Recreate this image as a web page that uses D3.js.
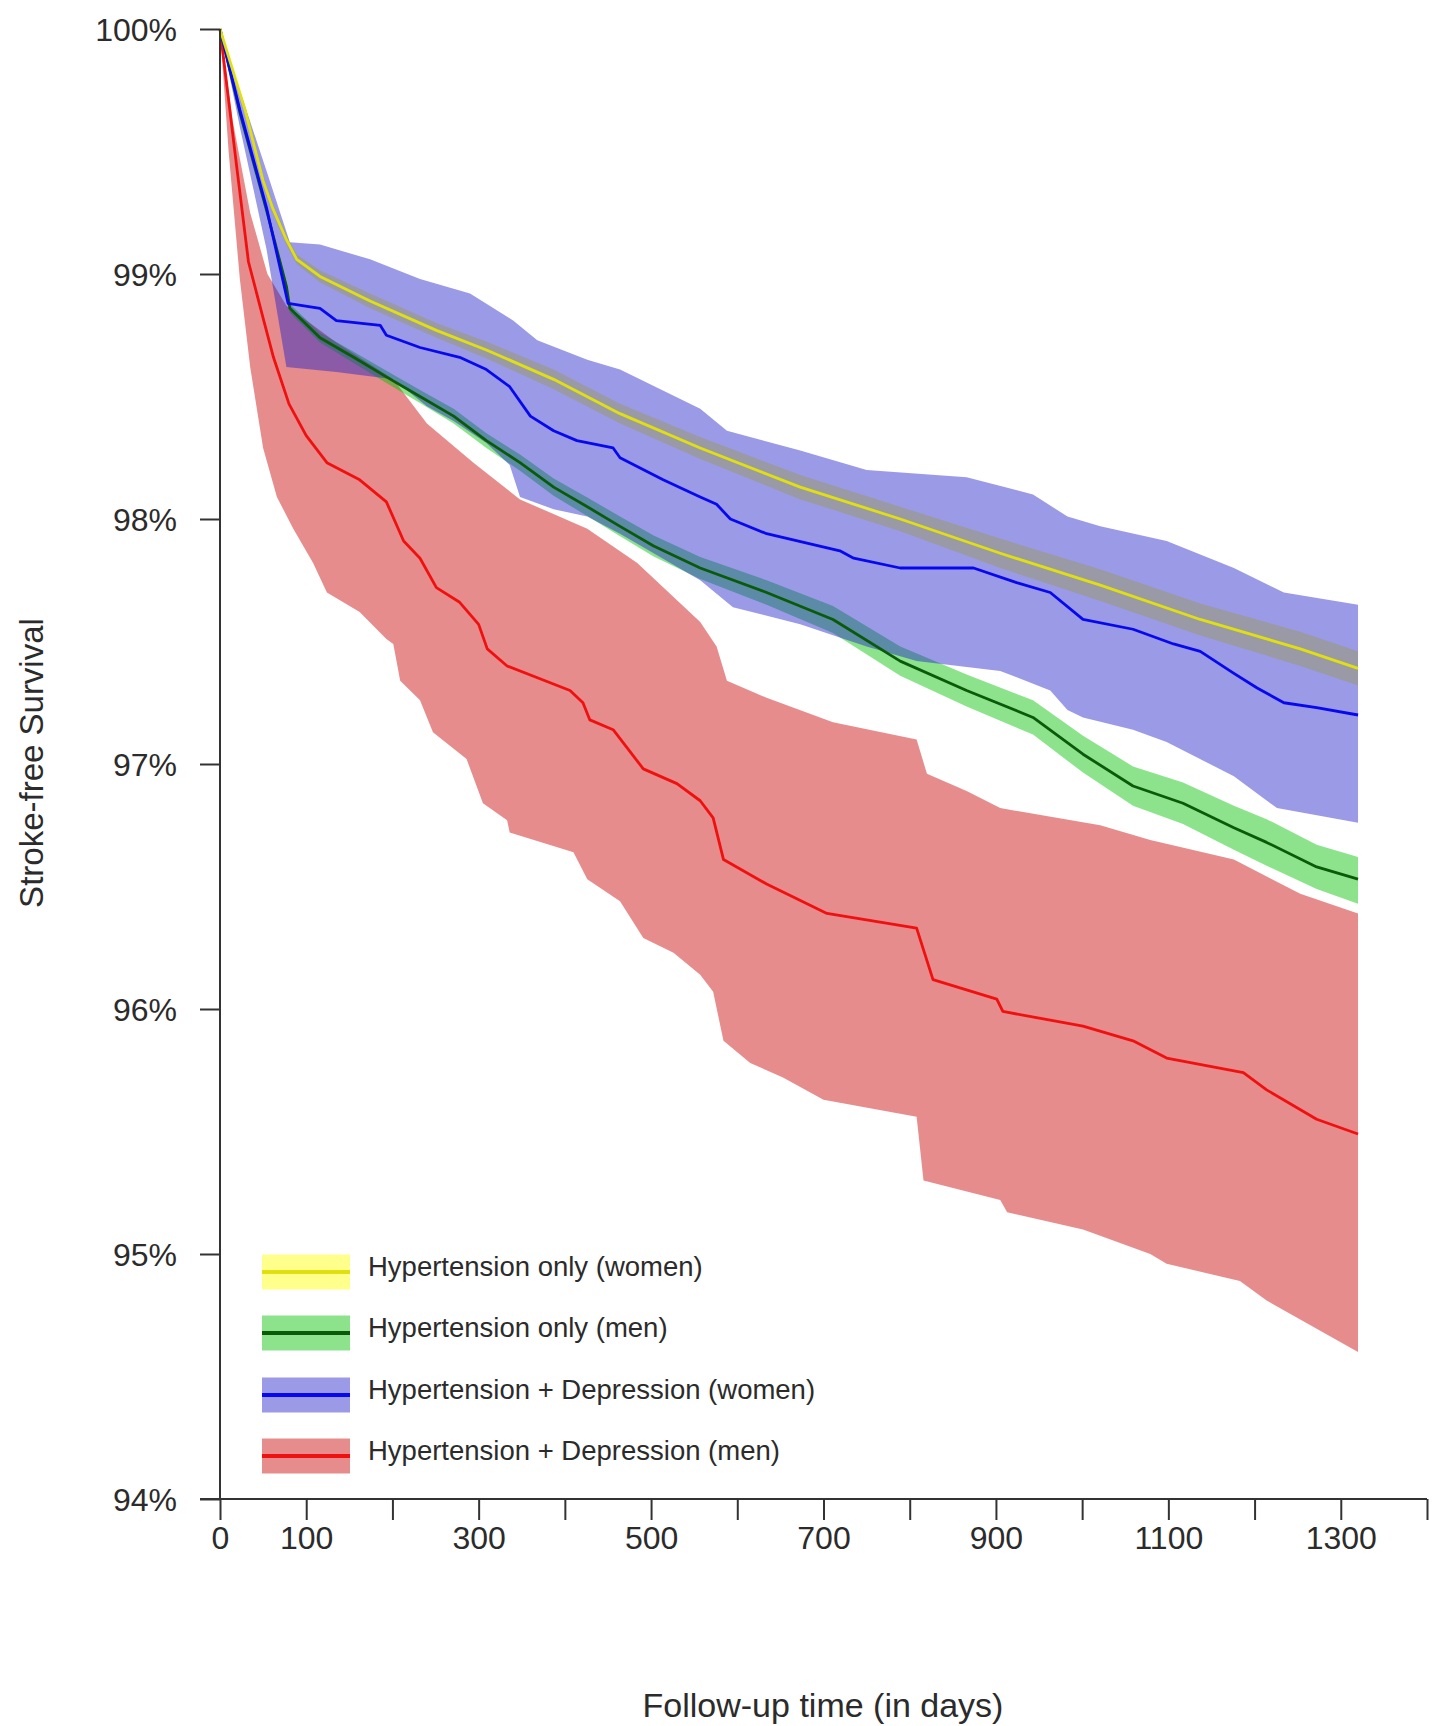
<!DOCTYPE html>
<html>
<head>
<meta charset="utf-8">
<script src="https://cdn.jsdelivr.net/npm/d3@7/dist/d3.min.js"></script>
<style>
  body { margin: 0; background: #fff; }
  text { font-family: "Liberation Sans", Arial, Helvetica, sans-serif; fill: #2b2b2b; }
</style>
</head>
<body>
<svg id="chart"></svg>
<script>
// Hypertension only (women)
const yellowDays = [0, 29, 50, 61, 77, 89, 116, 174, 251, 309, 387, 464, 557, 673, 789, 905, 1021, 1137, 1253, 1320];
const yellowSurv = [100, 99.67, 99.38, 99.27, 99.14, 99.06, 98.99, 98.89, 98.77, 98.69, 98.57, 98.43, 98.29, 98.13, 98.00, 97.86, 97.73, 97.59, 97.47, 97.39];
const yellowHi = [100, 99.69, 99.40, 99.29, 99.16, 99.08, 99.015, 98.92, 98.80, 98.725, 98.61, 98.47, 98.335, 98.18, 98.05, 97.92, 97.795, 97.655, 97.54, 97.46];
const yellowLo = [100, 99.65, 99.36, 99.25, 99.12, 99.04, 98.965, 98.86, 98.74, 98.655, 98.53, 98.39, 98.245, 98.08, 97.95, 97.80, 97.665, 97.525, 97.40, 97.32];

// Hypertension only (men)
const greenDays = [0, 23, 54, 77, 81, 116, 155, 193, 232, 271, 309, 348, 387, 426, 464, 503, 557, 634, 711, 789, 866, 943, 1001, 1059, 1117, 1176, 1214, 1272, 1320];
const greenSurv = [100, 99.66, 99.26, 98.95, 98.86, 98.74, 98.66, 98.58, 98.50, 98.42, 98.32, 98.23, 98.13, 98.05, 97.97, 97.89, 97.80, 97.70, 97.59, 97.42, 97.30, 97.19, 97.04, 96.91, 96.84, 96.74, 96.68, 96.58, 96.53];
const greenHi = [100, 99.675, 99.275, 98.967, 98.878, 98.76, 98.683, 98.605, 98.527, 98.45, 98.35, 98.263, 98.165, 98.088, 98.01, 97.933, 97.845, 97.75, 97.645, 97.48, 97.365, 97.26, 97.115, 96.99, 96.925, 96.83, 96.775, 96.67, 96.62];
const greenLo = [100, 99.645, 99.245, 98.933, 98.842, 98.72, 98.637, 98.555, 98.473, 98.39, 98.29, 98.197, 98.095, 98.012, 97.93, 97.847, 97.755, 97.65, 97.535, 97.36, 97.235, 97.12, 96.965, 96.83, 96.755, 96.65, 96.585, 96.49, 96.43];

// Hypertension + Depression (women)
const blueDays = [0, 23, 54, 79, 116, 135, 186, 193, 232, 278, 309, 336, 360, 387, 414, 456, 464, 514, 557, 576, 592, 634, 719, 735, 789, 874, 924, 963, 1001, 1059, 1106, 1137, 1176, 1203, 1234, 1272, 1320];
const blueSurv = [100, 99.67, 99.27, 98.88, 98.86, 98.81, 98.79, 98.75, 98.70, 98.66, 98.61, 98.54, 98.42, 98.36, 98.32, 98.29, 98.25, 98.16, 98.09, 98.06, 98.00, 97.94, 97.87, 97.84, 97.80, 97.80, 97.74, 97.70, 97.59, 97.55, 97.49, 97.46, 97.37, 97.31, 97.25, 97.23, 97.20];
const blueHiDays = [0, 23, 54, 81, 116, 174, 232, 290, 340, 368, 426, 464, 557, 588, 673, 750, 866, 943, 983, 1021, 1098, 1176, 1234, 1320];
const blueHi = [100, 99.75, 99.42, 99.13, 99.12, 99.06, 98.98, 98.92, 98.81, 98.73, 98.65, 98.61, 98.45, 98.36, 98.28, 98.20, 98.17, 98.10, 98.01, 97.97, 97.91, 97.80, 97.70, 97.65];
const blueLoDays = [0, 23, 54, 77, 135, 201, 240, 271, 309, 336, 348, 387, 426, 464, 557, 595, 673, 750, 808, 905, 963, 983, 1001, 1059, 1098, 1176, 1226, 1320];
const blueLo = [100, 99.6, 99.1, 98.62, 98.60, 98.57, 98.46, 98.40, 98.31, 98.22, 98.09, 98.04, 98.01, 97.94, 97.75, 97.64, 97.57, 97.48, 97.42, 97.38, 97.30, 97.22, 97.19, 97.14, 97.09, 96.95, 96.82, 96.76];

// Hypertension + Depression (men)
const redDays = [0, 20, 33, 50, 62, 80, 100, 124, 162, 193, 213, 232, 251, 278, 300, 310, 333, 406, 421, 429, 456, 491, 530, 557, 572, 584, 634, 704, 808, 827, 901, 908, 1001, 1059, 1098, 1187, 1214, 1272, 1320];
const redSurv = [100, 99.42, 99.05, 98.82, 98.66, 98.47, 98.34, 98.23, 98.16, 98.07, 97.91, 97.84, 97.72, 97.66, 97.57, 97.47, 97.40, 97.30, 97.25, 97.18, 97.14, 96.98, 96.92, 96.85, 96.78, 96.61, 96.51, 96.39, 96.33, 96.12, 96.04, 95.99, 95.93, 95.87, 95.80, 95.74, 95.67, 95.55, 95.49];
const redHiDays = [0, 15, 35, 55, 77, 135, 201, 240, 294, 348, 426, 484, 557, 576, 588, 634, 711, 808, 820, 866, 905, 1021, 1079, 1176, 1253, 1320];
const redHi = [100, 99.62, 99.25, 99.0, 98.87, 98.72, 98.57, 98.39, 98.23, 98.08, 97.96, 97.82, 97.58, 97.48, 97.34, 97.27, 97.17, 97.10, 96.96, 96.89, 96.82, 96.75, 96.69, 96.61, 96.47, 96.39];
const redLoDays = [0, 10, 23, 35, 50, 66, 85, 108, 124, 162, 193, 201, 209, 232, 247, 286, 305, 333, 336, 410, 426, 464, 491, 526, 557, 572, 584, 615, 653, 700, 808, 816, 905, 913, 1001, 1079, 1098, 1183, 1214, 1320];
const redLo = [100, 99.5, 98.98, 98.62, 98.29, 98.09, 97.96, 97.82, 97.70, 97.62, 97.51, 97.49, 97.34, 97.26, 97.13, 97.02, 96.84, 96.77, 96.72, 96.64, 96.53, 96.44, 96.29, 96.23, 96.14, 96.07, 95.87, 95.78, 95.72, 95.63, 95.56, 95.30, 95.22, 95.17, 95.10, 95.00, 94.96, 94.89, 94.81, 94.60];

const legendLabels = [
  "Hypertension only (women)",
  "Hypertension only (men)",
  "Hypertension + Depression (women)",
  "Hypertension + Depression (men)"
];
const xTicks = d3.range(0, 1401, 100);
const xTickLabels = [0, 100, 300, 500, 700, 900, 1100, 1300];
const yTicks = [94, 95, 96, 97, 98, 99, 100];
const xTitle = "Follow-up time (in days)";
const yTitle = "Stroke-free Survival";

const width = 1437, height = 1726;
const svg = d3.select("#chart").attr("width", width).attr("height", height);

const x = d3.scaleLinear().domain([0, 1400]).range([220, 1427]);
const y = d3.scaleLinear().domain([94, 100]).range([1499, 29]);

const zip = (a, b) => a.map((d, i) => [d, b[i]]);
const line = d3.line().x(d => x(d[0])).y(d => y(d[1]));

const series = [
  { name: legendLabels[0], days: yellowDays, surv: yellowSurv, hiDays: yellowDays, hi: yellowHi, loDays: yellowDays, lo: yellowLo, band: "#ffff00", stroke: "#e0e010" },
  { name: legendLabels[1], days: greenDays, surv: greenSurv, hiDays: greenDays, hi: greenHi, loDays: greenDays, lo: greenLo, band: "#00c000", stroke: "#0a5a0a" },
  { name: legendLabels[2], days: blueDays, surv: blueSurv, hiDays: blueHiDays, hi: blueHi, loDays: blueLoDays, lo: blueLo, band: "#2020c8", stroke: "#0808f0" },
  { name: legendLabels[3], days: redDays, surv: redSurv, hiDays: redHiDays, hi: redHi, loDays: redLoDays, lo: redLo, band: "#c80000", stroke: "#f01010" }
];

// bands: yellow, red, green, blue (blue ends up on top)
const bandOrder = [0, 3, 1, 2];
const bands = svg.append("g");
bandOrder.forEach(i => {
  const s = series[i];
  const pts = zip(s.hiDays, s.hi).concat(zip(s.loDays, s.lo).reverse());
  bands.append("path")
    .attr("d", line(pts) + "Z")
    .attr("fill", s.band)
    .attr("fill-opacity", 0.45)
    .attr("stroke", "none");
});

// survival curves
const lines = svg.append("g");
[3, 1, 2, 0].forEach(i => {
  const s = series[i];
  lines.append("path")
    .datum(zip(s.days, s.surv))
    .attr("d", line)
    .attr("fill", "none")
    .attr("stroke", s.stroke)
    .attr("stroke-width", 2.8)
    .attr("stroke-linejoin", "round");
});

// axes
const axisColor = "#333";
const yAxis = svg.append("g").attr("transform", `translate(${x(0)},0)`)
  .call(d3.axisLeft(y).tickValues(yTicks).tickSize(20).tickFormat(d => d + "%"));
const xAxis = svg.append("g").attr("transform", `translate(0,${y(94)})`)
  .call(d3.axisBottom(x).tickValues(xTicks).tickSize(21)
    .tickFormat(d => xTickLabels.includes(d) ? d : ""));

[yAxis, xAxis].forEach(g => {
  g.select(".domain").attr("stroke", axisColor).attr("stroke-width", 2);
  g.selectAll(".tick line").attr("stroke", axisColor).attr("stroke-width", 2);
  g.selectAll("text").attr("font-family", null).attr("fill", "#2b2b2b");
});
yAxis.select(".domain").attr("d", `M0,${y(100)}V${y(94)}`);
xAxis.select(".domain").attr("d", `M${x(0) - 20},0H${x(1400)}`);
yAxis.selectAll(".tick text").attr("font-size", 32).attr("x", -43).attr("dy", "0.35em");
xAxis.selectAll(".tick text").attr("font-size", 32).attr("y", 27).attr("dy", "0.71em");

// axis titles
svg.append("text")
  .attr("x", 823).attr("y", 1717)
  .attr("text-anchor", "middle")
  .attr("font-size", 34)
  .text(xTitle);
svg.append("text")
  .attr("transform", `translate(43,763) rotate(-90)`)
  .attr("text-anchor", "middle")
  .attr("font-size", 33)
  .text(yTitle);

// legend
const legend = svg.append("g");
const rowY = [1272, 1333, 1395, 1456];
series.forEach((s, i) => {
  const g = legend.append("g").attr("transform", `translate(0,${rowY[i]})`);
  g.append("rect")
    .attr("x", 262).attr("y", -17.5).attr("width", 88).attr("height", 35)
    .attr("fill", s.band).attr("fill-opacity", 0.45);
  g.append("line")
    .attr("x1", 262).attr("x2", 350).attr("y1", 0).attr("y2", 0)
    .attr("stroke", s.stroke).attr("stroke-width", 4);
  g.append("text")
    .attr("x", 368).attr("y", 4)
    .attr("font-size", 27.5)
    .text(s.name);
});
</script>
</body>
</html>
